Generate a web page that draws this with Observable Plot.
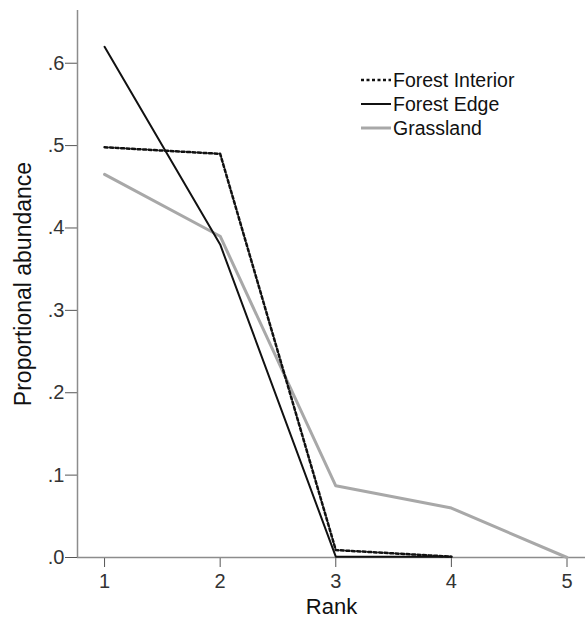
<!DOCTYPE html>
<html><head><meta charset="utf-8">
<script src="https://cdn.jsdelivr.net/npm/d3@7"></script>
<script src="https://cdn.jsdelivr.net/npm/@observablehq/plot@0.6"></script>
<style>
body{margin:0;background:#fff;font-family:"Liberation Sans",Arial,sans-serif;}
#wrap{position:relative;width:585px;height:630px;}
#legend{position:absolute;left:361px;top:68px;font-size:19.5px;color:#111;line-height:24px;}
#legend div{display:flex;align-items:center;}
#legend svg{margin-right:2px;}
#chart g[aria-label$="tick label"]{font-size:20px !important;}
</style></head><body>
<div id="wrap"><div id="chart"></div><div id="legend"></div></div>
<script>
const ranks = [1, 2, 3, 4, 5];
const forestInterior = [0.498, 0.490, 0.009, 0.001];
const forestEdge = [0.620, 0.380, 0.001, 0.001];
const grassland = [0.465, 0.390, 0.087, 0.060, 0.000];
const yTicks = [0, 0.1, 0.2, 0.3, 0.4, 0.5, 0.6];
const seriesNames = ["Forest Interior", "Forest Edge", "Grassland"];

const toRows = (vals, name) => vals.map((v, i) => ({rank: ranks[i], value: v, series: name}));
const fi = toRows(forestInterior, seriesNames[0]);
const fe = toRows(forestEdge, seriesNames[1]);
const gr = toRows(grassland, seriesNames[2]);

const xMin = 0.766, xMax = 5.16;
const axisColor = "#8c8c8c";
const fmt = d => d.toFixed(1).replace(/^0/, "");

const chart = Plot.plot({
  width: 585, height: 630,
  marginLeft: 77, marginRight: 0, marginTop: 10, marginBottom: 73,
  style: {fontFamily: '"Liberation Sans", Arial, sans-serif', fontSize: "17px", color: "#333"},
  x: {domain: [xMin, xMax], label: null},
  y: {domain: [0, 0.664], label: null},
  marks: [
    Plot.axisY({ticks: yTicks, tickFormat: fmt, tickSize: 12, tickPadding: 1, stroke: "#555", fontSize: 20, fill: "#333"}),
    Plot.axisX({ticks: ranks, tickFormat: d => String(d), tickSize: 10, tickPadding: 6, stroke: "#555", fontSize: 20, fill: "#333"}),
    Plot.ruleX([xMin], {stroke: axisColor, strokeWidth: 1.5}),
    Plot.ruleY([0], {stroke: axisColor, strokeWidth: 1.5}),
    Plot.line(gr, {x: "rank", y: "value", stroke: "#a8a8a8", strokeWidth: 3}),
    Plot.line(fe, {x: "rank", y: "value", stroke: "#111", strokeWidth: 2}),
    Plot.line(fi, {x: "rank", y: "value", stroke: "#111", strokeWidth: 2.5, strokeDasharray: "3,2.5"}),
    Plot.text(["Proportional abundance"], {frameAnchor: "left", textAnchor: "middle", dx: -54, rotate: -90, fontSize: 23, fill: "#111"}),
    Plot.text(["Rank"], {frameAnchor: "bottom", dy: 56, fontSize: 22, fill: "#111"})
  ]
});
document.getElementById("chart").appendChild(chart);

const legendStyles = [
  {name: seriesNames[0], stroke: "#111", width: 2.5, dash: "3,2.5"},
  {name: seriesNames[1], stroke: "#111", width: 2, dash: null},
  {name: seriesNames[2], stroke: "#a8a8a8", width: 3, dash: null}
];
const leg = d3.select("#legend");
legendStyles.forEach(s => {
  const row = leg.append("div");
  const sv = row.append("svg").attr("width", 30).attr("height", 10);
  const ln = sv.append("line").attr("x1", 0).attr("x2", 30).attr("y1", 5).attr("y2", 5)
    .attr("stroke", s.stroke).attr("stroke-width", s.width);
  if (s.dash) ln.attr("stroke-dasharray", s.dash);
  row.append("span").text(s.name);
});
</script></body></html>
